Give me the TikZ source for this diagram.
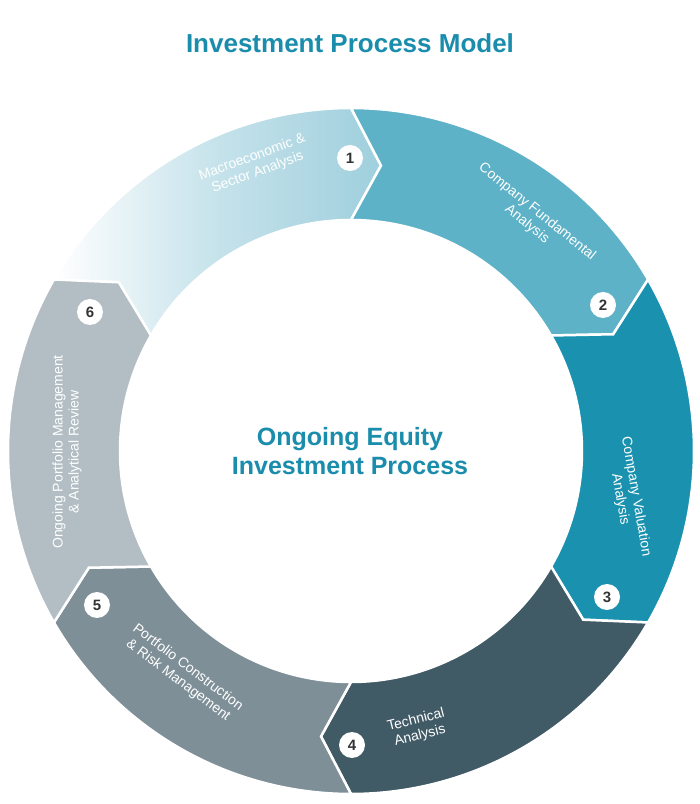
\documentclass[tikz,border=0pt]{standalone}
\usepackage{fontspec}
\setmainfont{Liberation Sans}
\usetikzlibrary{calc}
\begin{document}
\begin{tikzpicture}[x=1pt,y=1pt,
  seglab/.style={text=white,align=center,font=\fontsize{14}{16}\selectfont},
  numc/.style={circle,fill=white,minimum size=26pt,inner sep=0pt,font=\bfseries\fontsize{15}{15}\selectfont,text=black!80},
  gap/.style={draw=white,line width=2.5pt,line join=miter}]
\definecolor{sA}{HTML}{9FCFDD}
\definecolor{sB}{HTML}{5EB2C8}
\definecolor{sC}{HTML}{1A92AF}
\definecolor{sD}{HTML}{405A66}
\definecolor{sE}{HTML}{7E8F98}
\definecolor{sF}{HTML}{B3BEC4}
\definecolor{ttl}{HTML}{1A8DAD}
\useasboundingbox (0,0) rectangle (700,804);
\fill[white] (0,0) rectangle (700,804);
\coordinate (c) at (351,353);
\def\ro{343}\def\ri{231}\def\rm{287}\def\dl{6}
\newcommand{\seg}[3]{%
 \path[#3] ($(c)+(#1:\ro)$) arc[start angle=#1,end angle=#2,radius=\ro]
  -- ($(c)+({#2-\dl}:\rm)$) -- ($(c)+(#2:\ri)$)
  arc[start angle=#2,end angle=#1,radius=\ri]
  -- ($(c)+({#1-\dl}:\rm)$) -- cycle;}
\seg{150}{90}{left color=white,right color=sA,middle color=sA!60,gap}
\seg{90}{30}{fill=sB,gap}
\seg{30}{-30}{fill=sC,gap}
\seg{-30}{-90}{fill=sD,gap}
\seg{-90}{-150}{fill=sE,gap}
\seg{210}{150}{fill=sF,gap}
% labels
\node[seglab,rotate=20] (l1) at (255,639) {Macroeconomic \&\\Sector Analysis};
\node[seglab,rotate=-39] (l2) at (532,586) {Company Fundamental\\Analysis};
\node[seglab,rotate=-80] (l3) at (628,306) {Company Valuation\\Analysis};
\node[seglab,rotate=14] (l4) at (418,76) {Technical\\Analysis};
\node[seglab,rotate=-37] (l5) at (183,130) {Portfolio Construction\\\& Risk Management};
\node[seglab,rotate=90] (l6) at (67,352) {Ongoing Portfolio Management\\\& Analytical Review};
% numbers
\node[numc] (n1) at (350,646) {1};
\node[numc] (n2) at (603,499) {2};
\node[numc] (n3) at (607,207) {3};
\node[numc] (n4) at (352,59) {4};
\node[numc] (n5) at (97,199) {5};
\node[numc] (n6) at (90,492) {6};
% titles
\node[text=ttl,font=\bfseries\fontsize{26}{28}\selectfont] (title) at (350,761) {Investment Process Model};
\node[text=ttl,font=\bfseries\fontsize{25}{29}\selectfont,align=center] (center) at (350,353) {Ongoing Equity\\Investment Process};
\end{tikzpicture}
\end{document}
